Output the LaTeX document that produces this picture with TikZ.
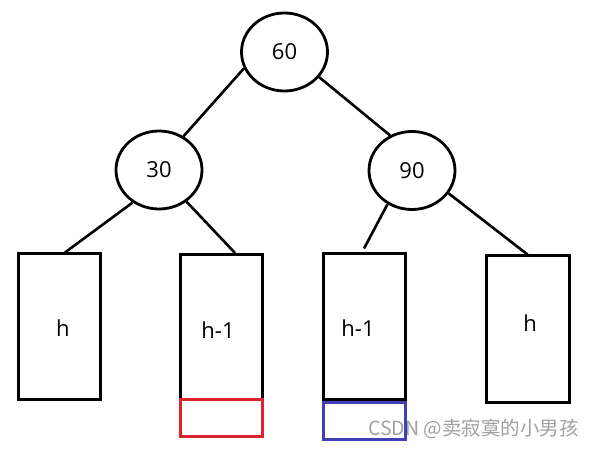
\documentclass[tikz,border=0pt]{standalone}
\usepackage{fontspec}
\setmainfont{Open Sans}
\newfontfamily\cjk{Noto Sans CJK SC}
\usetikzlibrary{shapes.geometric}
\definecolor{boxred}{RGB}{220,35,45}
\definecolor{boxblue}{RGB}{66,62,182}
\definecolor{wmgray}{RGB}{160,160,160}
\tikzset{
  treenode/.style={ellipse, draw, line width=2.8pt, minimum width=86pt, minimum height=78pt, inner sep=0pt, font=\fontsize{22}{26}\selectfont},
  subtree/.style={rectangle, draw, line width=3pt, minimum width=82pt, minimum height=145pt, inner sep=0pt},
  extra/.style={rectangle, draw, line width=3pt, minimum width=82pt, minimum height=37pt, inner sep=0pt},
  lbl/.style={font=\fontsize{22}{26}\selectfont, inner sep=0pt},
  edge/.style={line width=2.6pt},
}
\begin{document}
\begin{tikzpicture}[x=1pt,y=-1pt]
\useasboundingbox (0,0) rectangle (595,449);
% tree nodes
\node[treenode] (n60) at (284.5,52) {60};
\node[treenode] (n30) at (159,170) {30};
\node[treenode] (n90) at (412,170.5) {90};
% subtrees
\node[subtree] (b1) at (59,326.5) {};
\node[subtree] (b2) at (221,327) {};
\node[subtree] (b3) at (364,326.5) {};
\node[subtree, minimum width=83pt, minimum height=146pt] (b4) at (527.5,329) {};
\node[lbl] (t1) at (63,328) {h};
\node[lbl] (t2) at (218,330) {h-1};
\node[lbl] (t3) at (358,328) {h-1};
\node[lbl] (t4) at (530,323) {h};
% extra levels
\node[extra, draw=boxred] (r2) at (221,417.5) {};
\node[extra, draw=boxblue] (r3) at (364,420.5) {};
% edges
\draw[edge] (n60.202) -- (n30.54);
\draw[edge] (n60.324) -- (n90.122);
\draw[edge] (n30.231) -- ([xshift=6pt]b1.north);
\draw[edge] (n30.311) -- ([xshift=14pt]b2.north);
\draw[edge] (n90.234) -- ([yshift=4pt]b3.north);
\draw[edge] (n90.328) -- (b4.north);
% watermark
\node[anchor=west, text=wmgray, inner sep=0pt, font=\cjk\fontsize{19.5}{22}\selectfont] (wm) at (368,429) {CSDN @卖寂寞的小男孩};
\end{tikzpicture}
\end{document}
